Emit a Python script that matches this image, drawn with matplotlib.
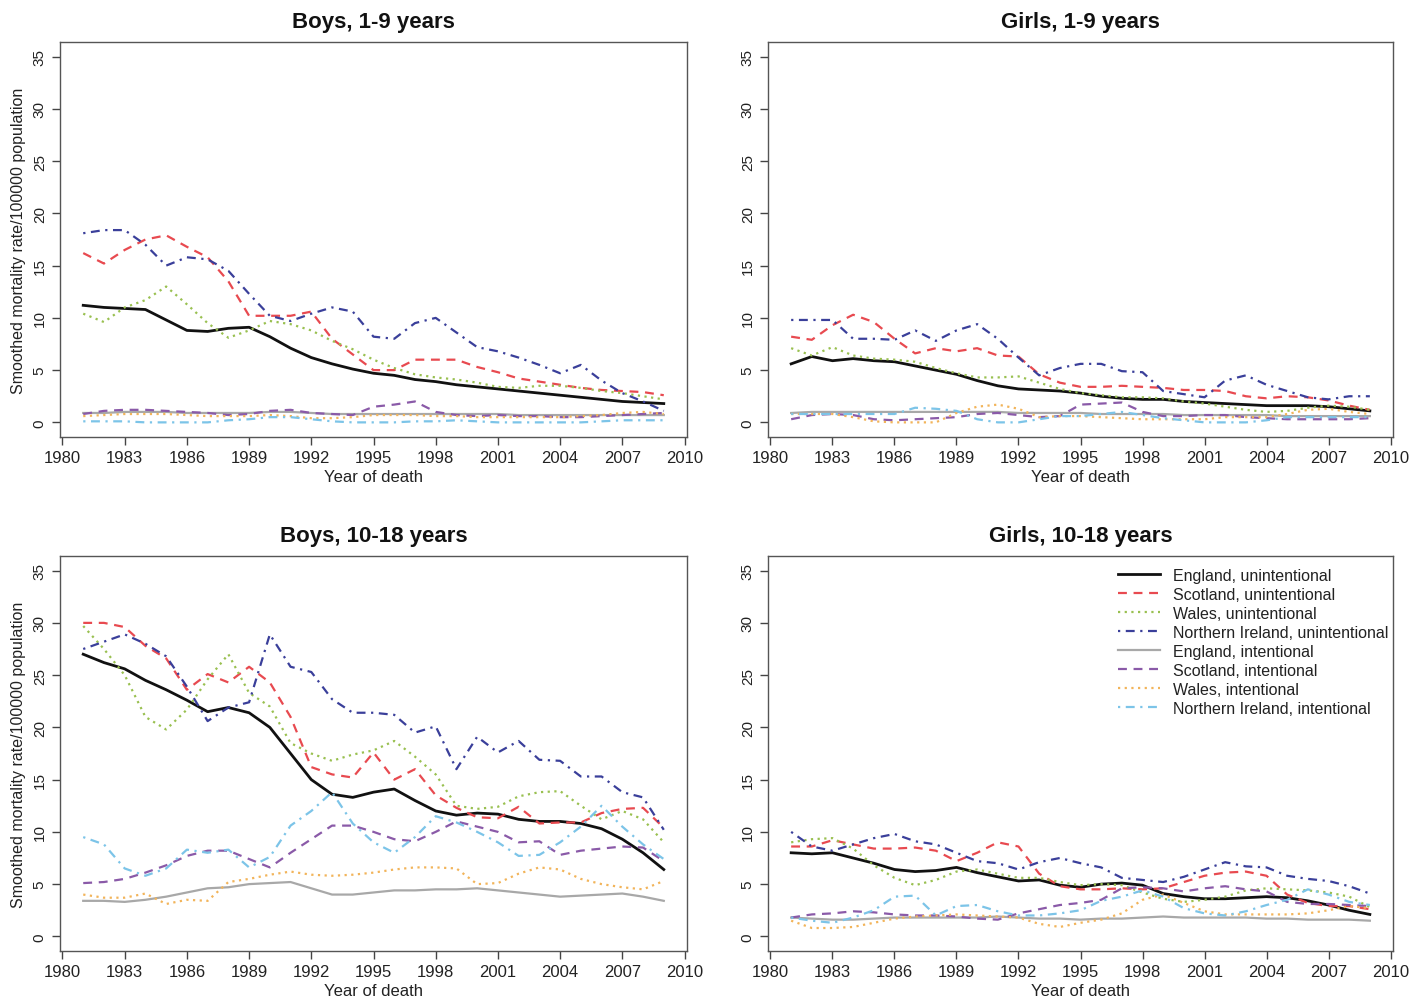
import matplotlib
matplotlib.use("Agg")
import matplotlib.pyplot as plt
import numpy as np

plt.rcParams['font.family'] = ['Liberation Sans', 'DejaVu Sans']

years = list(range(1981, 2010))

series_labels = [
    "England, unintentional", "Scotland, unintentional", "Wales, unintentional",
    "Northern Ireland, unintentional", "England, intentional", "Scotland, intentional",
    "Wales, intentional", "Northern Ireland, intentional",
]

panel_titles = ["Boys, 1-9 years", "Girls, 1-9 years", "Boys, 10-18 years", "Girls, 10-18 years"]
xticks = [1980, 1983, 1986, 1989, 1992, 1995, 1998, 2001, 2004, 2007, 2010]
yticks = [0, 5, 10, 15, 20, 25, 30, 35]

# ---- Boys, 1-9 years ----
b19_eng_u = [11.2, 11.0, 10.9, 10.8, 9.8, 8.8, 8.7, 9.0, 9.1, 8.2, 7.1, 6.2, 5.6, 5.1, 4.7, 4.5, 4.1, 3.9, 3.6, 3.4, 3.2, 3.0, 2.8, 2.6, 2.4, 2.2, 2.0, 1.9, 1.8]
b19_sco_u = [16.2, 15.2, 16.5, 17.5, 17.9, 16.8, 15.8, 13.5, 10.2, 10.2, 10.2, 10.6, 8.0, 6.5, 5.0, 5.0, 6.0, 6.0, 6.0, 5.3, 4.8, 4.2, 3.9, 3.6, 3.3, 3.1, 3.0, 2.9, 2.6]
b19_wal_u = [10.4, 9.6, 11.0, 11.7, 13.0, 11.3, 9.5, 8.1, 8.8, 9.7, 9.4, 8.8, 7.8, 7.0, 6.0, 5.2, 4.6, 4.3, 4.1, 3.8, 3.4, 3.3, 3.5, 3.5, 3.3, 3.0, 2.8, 2.5, 2.2]
b19_ni_u = [18.1, 18.4, 18.4, 17.0, 15.0, 15.8, 15.6, 14.5, 12.3, 10.2, 9.7, 10.4, 11.0, 10.6, 8.2, 8.0, 9.5, 10.0, 8.6, 7.2, 6.8, 6.2, 5.5, 4.7, 5.5, 4.0, 2.8, 2.0, 1.1]
b19_eng_i = [0.9, 0.9, 1.0, 1.0, 1.0, 0.9, 0.9, 0.9, 0.9, 1.0, 1.0, 0.9, 0.8, 0.8, 0.8, 0.8, 0.8, 0.8, 0.8, 0.8, 0.8, 0.7, 0.7, 0.7, 0.7, 0.7, 0.7, 0.7, 0.7]
b19_sco_i = [0.8, 1.1, 1.2, 1.2, 1.1, 1.0, 0.9, 0.7, 0.8, 1.1, 1.2, 0.9, 0.8, 0.7, 1.5, 1.7, 2.0, 1.0, 0.7, 0.6, 0.7, 0.6, 0.6, 0.5, 0.5, 0.6, 0.7, 0.8, 0.9]
b19_wal_i = [0.6, 0.7, 0.8, 0.8, 0.8, 0.7, 0.6, 0.6, 0.6, 0.7, 0.6, 0.4, 0.4, 0.5, 0.7, 0.7, 0.7, 0.6, 0.6, 0.5, 0.5, 0.5, 0.5, 0.5, 0.6, 0.7, 0.9, 1.0, 0.8]
b19_ni_i = [0.1, 0.1, 0.1, 0.0, 0.0, 0.0, 0.0, 0.2, 0.3, 0.5, 0.5, 0.3, 0.1, 0.0, 0.0, 0.0, 0.1, 0.1, 0.2, 0.1, 0.0, 0.0, 0.0, 0.0, 0.0, 0.1, 0.2, 0.2, 0.2]

# ---- Girls, 1-9 years ----
g19_eng_u = [5.6, 6.3, 5.9, 6.1, 5.9, 5.8, 5.4, 5.0, 4.6, 4.0, 3.5, 3.2, 3.1, 3.0, 2.8, 2.5, 2.3, 2.2, 2.2, 2.0, 1.9, 1.8, 1.7, 1.6, 1.6, 1.6, 1.5, 1.3, 1.1]
g19_sco_u = [8.2, 7.9, 9.3, 10.3, 9.6, 8.0, 6.6, 7.1, 6.8, 7.1, 6.4, 6.3, 4.6, 3.8, 3.4, 3.4, 3.5, 3.4, 3.3, 3.1, 3.1, 3.0, 2.5, 2.3, 2.5, 2.4, 2.1, 1.6, 1.2]
g19_wal_u = [7.1, 6.4, 7.2, 6.4, 6.1, 6.0, 5.8, 5.2, 4.7, 4.3, 4.3, 4.4, 3.8, 3.2, 2.8, 2.6, 2.4, 2.4, 2.3, 2.0, 1.8, 1.5, 1.2, 1.0, 1.1, 1.4, 1.6, 1.5, 1.2]
g19_ni_u = [9.8, 9.8, 9.8, 8.0, 8.0, 7.9, 8.8, 7.8, 8.8, 9.4, 8.0, 6.2, 4.5, 5.2, 5.6, 5.6, 4.9, 4.8, 3.0, 2.7, 2.4, 4.0, 4.5, 3.6, 3.0, 2.4, 2.2, 2.5, 2.5]
g19_eng_i = [0.9, 1.0, 1.0, 1.0, 1.0, 1.0, 1.0, 1.0, 1.0, 1.0, 1.0, 0.9, 0.9, 0.9, 0.9, 0.8, 0.8, 0.8, 0.8, 0.7, 0.7, 0.7, 0.7, 0.7, 0.6, 0.6, 0.6, 0.6, 0.6]
g19_sco_i = [0.3, 0.7, 0.8, 0.7, 0.3, 0.2, 0.3, 0.4, 0.5, 0.8, 0.9, 0.7, 0.5, 0.6, 1.7, 1.8, 1.9, 1.0, 0.6, 0.6, 0.7, 0.7, 0.5, 0.4, 0.3, 0.3, 0.3, 0.3, 0.4]
g19_wal_i = [0.8, 0.8, 0.8, 0.5, 0.1, 0.0, 0.0, 0.0, 0.9, 1.5, 1.7, 1.3, 0.5, 0.6, 0.6, 0.5, 0.4, 0.3, 0.3, 0.3, 0.3, 0.5, 0.5, 0.5, 0.8, 1.2, 1.3, 1.0, 0.8]
g19_ni_i = [0.8, 0.8, 0.8, 0.8, 0.8, 0.8, 1.4, 1.3, 1.1, 0.3, 0.0, 0.0, 0.3, 0.6, 0.6, 0.8, 1.0, 0.7, 0.4, 0.2, 0.0, 0.0, 0.0, 0.2, 0.5, 0.5, 0.5, 0.5, 0.5]

# ---- Boys, 10-18 years ----
b1018_eng_u = [27.0, 26.2, 25.6, 24.5, 23.6, 22.6, 21.5, 21.9, 21.4, 20.0, 17.5, 15.0, 13.6, 13.3, 13.8, 14.1, 13.0, 12.0, 11.6, 11.8, 11.7, 11.2, 11.0, 11.0, 10.8, 10.3, 9.3, 8.0, 6.4]
b1018_sco_u = [30.0, 30.0, 29.6, 27.8, 26.6, 23.6, 25.1, 24.3, 25.8, 24.3, 21.0, 16.2, 15.5, 15.2, 17.6, 15.0, 16.0, 13.5, 12.3, 11.4, 11.3, 12.4, 10.8, 10.9, 10.9, 11.8, 12.2, 12.3, 10.4]
b1018_wal_u = [29.7, 27.5, 25.0, 21.0, 19.8, 21.7, 24.6, 27.0, 23.3, 22.0, 18.5, 17.5, 16.8, 17.4, 17.8, 18.7, 17.2, 15.5, 12.5, 12.2, 12.4, 13.4, 13.8, 13.9, 12.5, 11.2, 12.0, 11.2, 9.0]
b1018_ni_u = [27.5, 28.2, 28.9, 28.0, 26.8, 23.9, 20.6, 21.9, 22.4, 28.9, 25.8, 25.3, 22.7, 21.4, 21.4, 21.2, 19.5, 20.1, 16.0, 19.1, 17.6, 18.7, 16.9, 16.8, 15.3, 15.3, 13.8, 13.3, 10.2]
b1018_eng_i = [3.4, 3.4, 3.3, 3.5, 3.8, 4.2, 4.6, 4.7, 5.0, 5.1, 5.2, 4.6, 4.0, 4.0, 4.2, 4.4, 4.4, 4.5, 4.5, 4.6, 4.4, 4.2, 4.0, 3.8, 3.9, 4.0, 4.1, 3.8, 3.4]
b1018_sco_i = [5.1, 5.2, 5.5, 6.1, 6.8, 7.7, 8.2, 8.2, 7.4, 6.6, 8.0, 9.3, 10.6, 10.6, 10.0, 9.3, 9.1, 10.0, 11.0, 10.5, 10.0, 9.0, 9.1, 7.8, 8.2, 8.4, 8.6, 8.5, 7.2]
b1018_wal_i = [4.0, 3.7, 3.7, 4.1, 3.1, 3.5, 3.4, 5.2, 5.5, 5.9, 6.2, 5.9, 5.8, 5.9, 6.1, 6.4, 6.6, 6.6, 6.5, 5.0, 5.1, 6.0, 6.6, 6.4, 5.5, 5.0, 4.7, 4.5, 5.3]
b1018_ni_i = [9.5, 8.8, 6.5, 5.8, 6.5, 8.3, 8.0, 8.3, 6.6, 7.6, 10.6, 12.0, 13.8, 10.8, 9.0, 8.0, 9.5, 11.5, 10.9, 10.0, 9.0, 7.7, 7.8, 9.0, 10.5, 12.5, 10.5, 8.8, 7.4]

# ---- Girls, 10-18 years ----
g1018_eng_u = [8.0, 7.9, 8.0, 7.5, 7.0, 6.4, 6.2, 6.3, 6.6, 6.1, 5.7, 5.3, 5.4, 4.9, 4.7, 5.0, 5.1, 4.9, 4.1, 3.8, 3.6, 3.6, 3.7, 3.8, 3.7, 3.4, 3.0, 2.5, 2.1]
g1018_sco_u = [8.6, 8.6, 9.2, 8.8, 8.4, 8.4, 8.5, 8.2, 7.2, 8.0, 9.0, 8.6, 6.0, 4.8, 4.5, 4.5, 4.6, 4.5, 4.6, 5.2, 5.8, 6.1, 6.2, 5.8, 4.0, 3.2, 2.9, 2.9, 2.6]
g1018_wal_u = [9.0, 9.3, 9.4, 8.4, 6.8, 5.6, 4.9, 5.4, 6.2, 6.4, 6.0, 5.6, 5.6, 5.2, 4.9, 5.0, 4.9, 4.2, 3.6, 3.3, 3.5, 3.8, 4.4, 4.6, 4.5, 4.4, 4.2, 3.8, 2.8]
g1018_ni_u = [10.0, 8.6, 8.2, 8.8, 9.4, 9.8, 9.1, 8.8, 8.0, 7.2, 7.0, 6.4, 7.1, 7.5, 7.0, 6.6, 5.6, 5.4, 5.2, 5.7, 6.4, 7.1, 6.7, 6.6, 5.8, 5.5, 5.3, 4.8, 4.1]
g1018_eng_i = [1.8, 1.7, 1.6, 1.6, 1.7, 1.8, 1.8, 1.8, 1.8, 1.8, 1.9, 1.8, 1.7, 1.7, 1.6, 1.7, 1.7, 1.8, 1.9, 1.8, 1.8, 1.8, 1.8, 1.7, 1.7, 1.6, 1.6, 1.6, 1.5]
g1018_sco_i = [1.8, 2.1, 2.2, 2.4, 2.3, 2.1, 2.0, 2.0, 1.9, 1.7, 1.6, 2.2, 2.6, 3.0, 3.2, 3.5, 4.6, 4.7, 4.6, 4.3, 4.6, 4.8, 4.5, 4.3, 3.3, 3.1, 3.1, 3.0, 2.9]
g1018_wal_i = [1.5, 0.8, 0.8, 0.9, 1.3, 1.7, 1.9, 2.0, 2.1, 2.0, 1.9, 1.8, 1.2, 0.9, 1.3, 1.6, 2.2, 3.5, 4.0, 3.2, 2.4, 2.1, 2.1, 2.1, 2.1, 2.2, 2.5, 2.9, 2.7]
g1018_ni_i = [1.8, 1.5, 1.3, 1.8, 2.5, 3.8, 3.9, 2.0, 2.9, 3.0, 2.4, 2.0, 2.0, 2.2, 2.5, 3.4, 3.8, 4.4, 3.8, 2.7, 2.2, 2.0, 2.4, 3.0, 3.5, 4.5, 4.0, 3.3, 3.0]

panels = [
    [b19_eng_u, b19_sco_u, b19_wal_u, b19_ni_u, b19_eng_i, b19_sco_i, b19_wal_i, b19_ni_i],
    [g19_eng_u, g19_sco_u, g19_wal_u, g19_ni_u, g19_eng_i, g19_sco_i, g19_wal_i, g19_ni_i],
    [b1018_eng_u, b1018_sco_u, b1018_wal_u, b1018_ni_u, b1018_eng_i, b1018_sco_i, b1018_wal_i, b1018_ni_i],
    [g1018_eng_u, g1018_sco_u, g1018_wal_u, g1018_ni_u, g1018_eng_i, g1018_sco_i, g1018_wal_i, g1018_ni_i],
]

colors = ["#111111", "#e84a50", "#99c050", "#3a3f9a", "#a8a8a8", "#8a5aa8", "#f2b45a", "#7cc4e8"]
styles = ["-", (0, (4, 3)), (0, (1, 2)), (0, (1, 2.5, 4, 2.5)),
          "-", (0, (4, 3)), (0, (1, 2)), (0, (1, 2.5, 4, 2.5))]
widths = [2.0, 1.6, 1.6, 1.6, 1.6, 1.6, 1.6, 1.6]

fig = plt.figure(figsize=(14.25, 10.04), dpi=100)
W, H = 1425.0, 1004.0
boxes = [
    (60, 43, 687, 438),
    (768, 43, 1393, 438),
    (60, 557, 687, 952),
    (768, 557, 1393, 952),
]

axes = []
for i, (l, t, r, b) in enumerate(boxes):
    ax = fig.add_axes([l / W, 1 - b / H, (r - l) / W, (b - t) / H])
    axes.append(ax)
    for k in range(8):
        ax.plot(years, panels[i][k], color=colors[k], linestyle=styles[k],
                linewidth=widths[k], label=series_labels[k])
    ax.set_xlim(1979.88, 2010.12)
    ax.set_ylim(-1.4, 36.4)
    ax.set_xticks(xticks)
    ax.set_yticks(yticks)
    ax.tick_params(axis='both', direction='out', length=6, width=1, color='#444444',
                   labelcolor='#222222')
    ax.tick_params(axis='x', labelsize=12)
    ax.tick_params(axis='y', labelsize=11, labelrotation=90)
    for lab in ax.get_yticklabels():
        lab.set_verticalalignment('center')
    for s in ax.spines.values():
        s.set_color('#555555')
        s.set_linewidth(1.0)
    ax.set_title(panel_titles[i], fontsize=16, fontweight='bold', pad=11, color='#111111')
    ax.set_xlabel("Year of death", fontsize=12, color='#222222', labelpad=3)
    if i in (0, 2):
        ax.set_ylabel("Smoothed mortality rate/100000 population", fontsize=11.5,
                      color='#222222', labelpad=5)

leg = axes[3].legend(loc='upper left', bbox_to_anchor=(0.56, 0.97), frameon=False,
                     fontsize=11.5, handlelength=2.6, handletextpad=0.85,
                     labelspacing=0.25, borderpad=0, borderaxespad=0)
for t in leg.get_texts():
    t.set_color('#222222')

fig.savefig("out.png", dpi=100)
